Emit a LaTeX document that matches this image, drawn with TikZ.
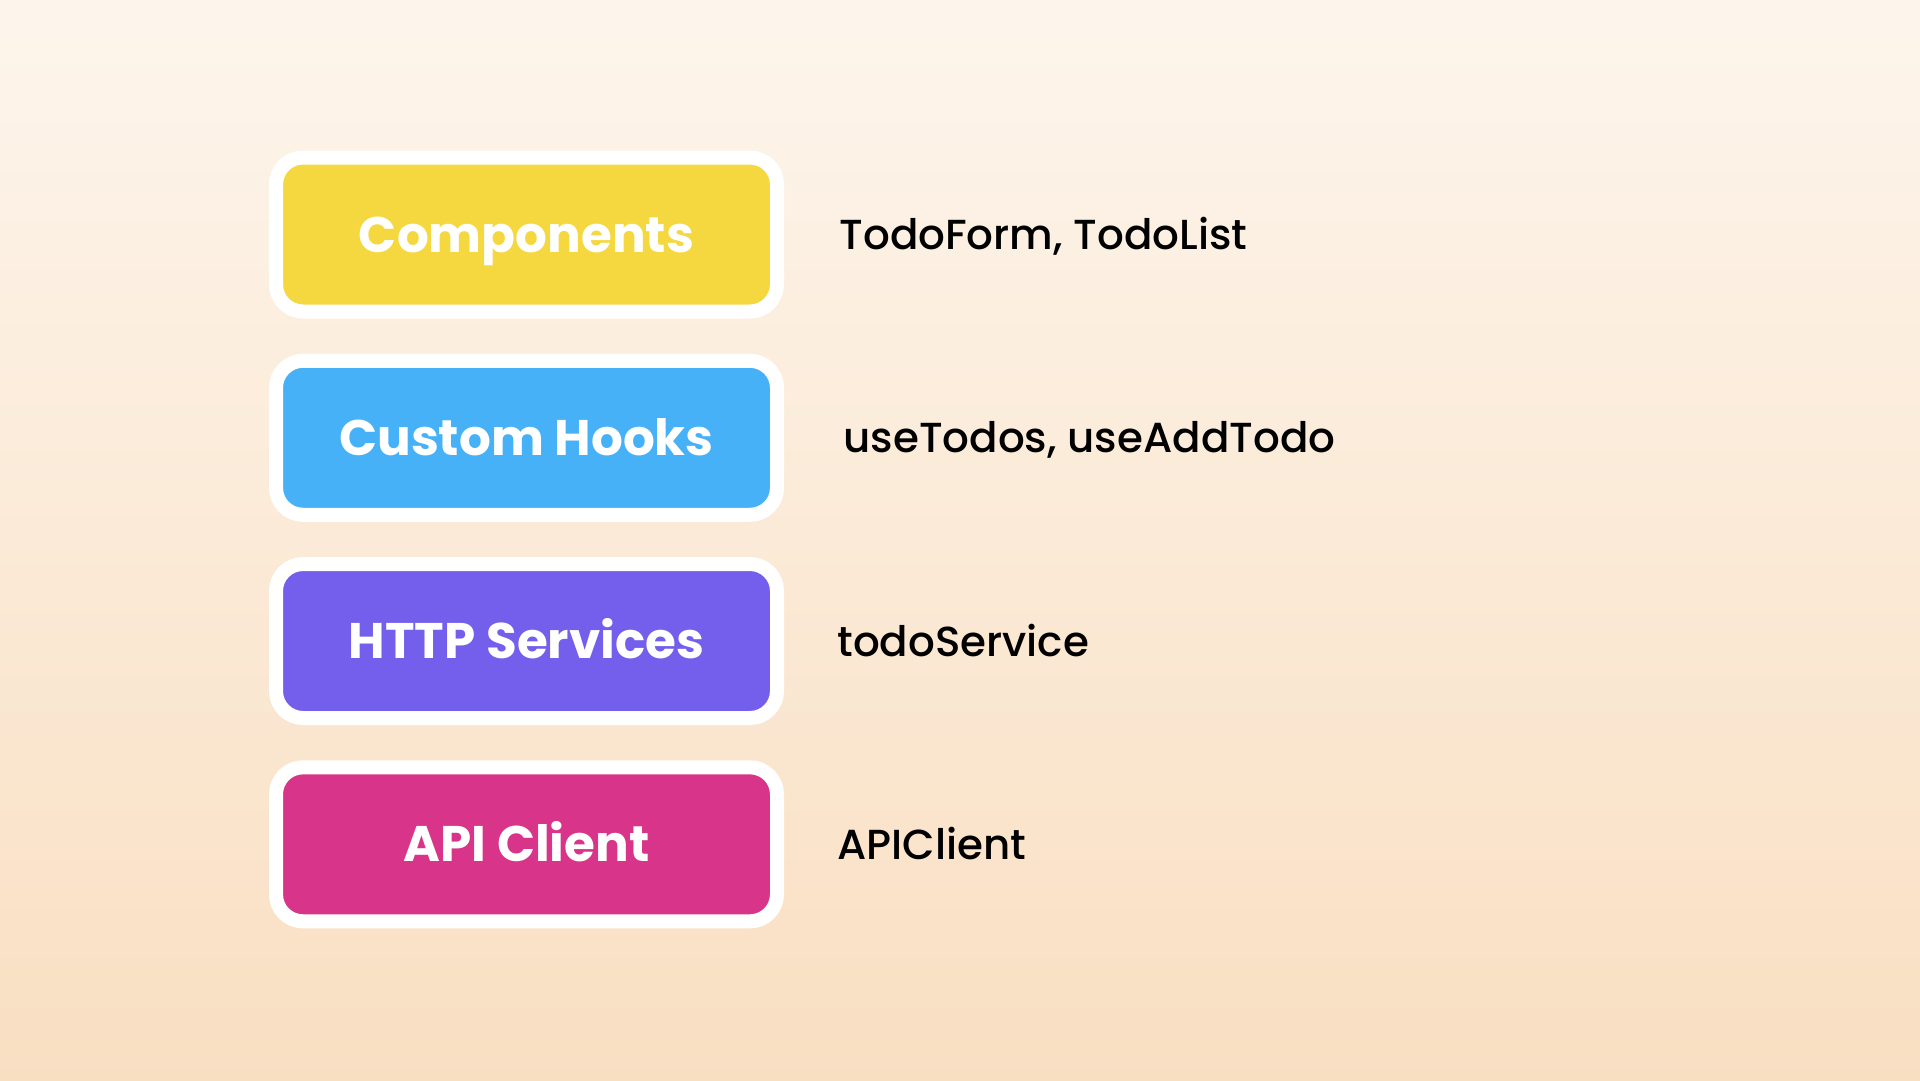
\documentclass[tikz,border=0pt]{standalone}
\usepackage{fontspec}
\setmainfont{Poppins}
\newfontfamily\layerfont{Poppins Bold}
\newfontfamily\notefont{Poppins Medium}
\definecolor{bgtop}{HTML}{FDF5EC}
\definecolor{bgbot}{HTML}{F9DFC2}
\definecolor{compyellow}{HTML}{F5D840}
\definecolor{hookblue}{HTML}{46B1F7}
\definecolor{servpurple}{HTML}{735FEB}
\definecolor{apipink}{HTML}{D83489}
\begin{document}
\begin{tikzpicture}[x=1pt, y=-1pt,
  layer/.style={draw=white, line width=14pt, rounded corners=27pt,
    minimum width=501pt, minimum height=154pt, text=white,
    text height=35pt, text depth=0pt,
    font=\layerfont\fontsize{50}{60}\selectfont},
  note/.style={anchor=base west, text=black,
    font=\notefont\fontsize{42}{50}\selectfont}]
\shade[top color=bgtop, bottom color=bgbot] (0,0) rectangle (1920,1080);

\node[layer, fill=compyellow] (comp) at (526.5,234.5){Components};
\node[layer, fill=hookblue] (hooks) at (526.5,437.8){Custom Hooks};
\node[layer, fill=servpurple] (serv) at (526.5,641){HTTP Services};
\node[layer, fill=apipink] (api) at (526.5,844.3){API Client};

\node[note] (compnote) at (836,249.5){TodoForm, TodoList};
\node[note] (hooksnote) at (840,452.8){useTodos, useAddTodo};
\node[note] (servnote) at (834,656){todoService};
\node[note] (apinote) at (834,859.3){APIClient};
\end{tikzpicture}
\end{document}
